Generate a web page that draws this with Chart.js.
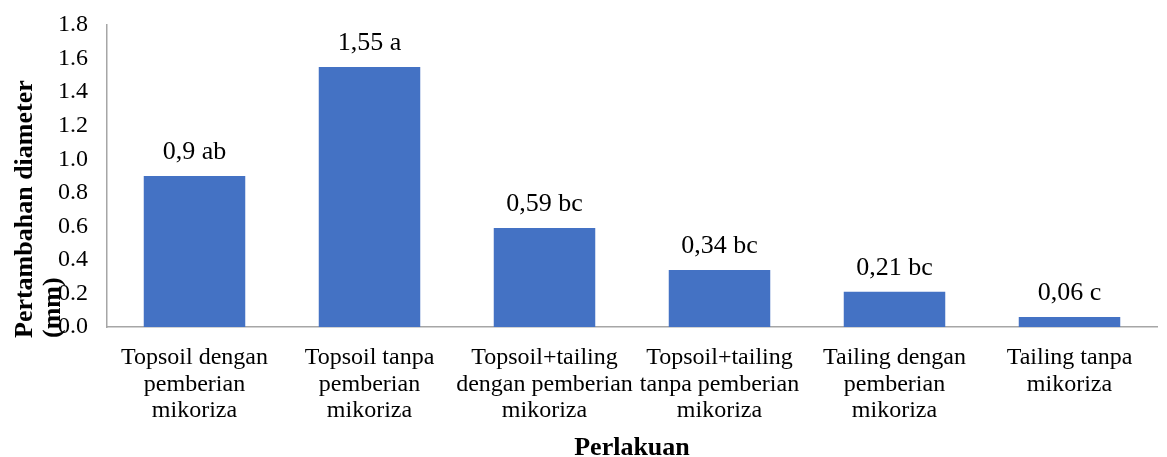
<!DOCTYPE html>
<html><head><meta charset="utf-8">
<script src="https://cdn.jsdelivr.net/npm/chart.js@4/dist/chart.umd.min.js"></script>
<style>html,body{margin:0;padding:0;background:#fff}#w{width:1167px;height:457px}</style>
</head><body><div id="w"><canvas id="c"></canvas></div>
<script>
const categories = [
  ["Topsoil dengan","pemberian","mikoriza"],
  ["Topsoil tanpa","pemberian","mikoriza"],
  ["Topsoil+tailing","dengan pemberian","mikoriza"],
  ["Topsoil+tailing","tanpa pemberian","mikoriza"],
  ["Tailing dengan","pemberian","mikoriza"],
  ["Tailing tanpa","mikoriza"]
];
const values = [0.9, 1.55, 0.59, 0.34, 0.21, 0.06];
const valueLabels = ["0,9 ab","1,55 a","0,59 bc","0,34 bc","0,21 bc","0,06 c"];
const yTitleLines = ["Pertambahan diameter","(mm)"];
const xTitle = "Perlakuan";

const SERIF = '"Liberation Serif","Times New Roman",serif';

const labelPlugin = {
  id:'labels',
  afterDatasetsDraw(chart){
    const ctx = chart.ctx;
    const meta = chart.getDatasetMeta(0);
    ctx.save();
    ctx.fillStyle = '#000';
    ctx.font = '26px ' + SERIF;
    ctx.textAlign = 'center';
    ctx.textBaseline = 'middle';
    meta.data.forEach((b,i)=>{ ctx.fillText(valueLabels[i], b.x, b.y - 24); });
    // y title
    ctx.font = 'bold 26px ' + SERIF;
    ctx.textAlign = 'left';
    ctx.textBaseline = 'middle';
    ctx.save();
    ctx.translate(25, 338);
    ctx.rotate(-Math.PI/2);
    ctx.fillText(yTitleLines[0], 0, 0);
    ctx.fillText(yTitleLines[1], 0, 28);
    ctx.restore();
    // x title
    ctx.textAlign = 'center';
    ctx.fillText(xTitle, (chart.chartArea.left+chart.chartArea.right)/2, 448);
    ctx.restore();
  }
};

new Chart(document.getElementById('c'), {
  type:'bar',
  data:{ labels: categories, datasets:[{ data: values, backgroundColor:'#4472c4', barPercentage:0.58, categoryPercentage:1 }]},
  options:{
    responsive:true, maintainAspectRatio:false, animation:false,
    layout:{ padding:{ top:25, right:10, left:0, bottom:0 } },
    plugins:{ legend:{display:false}, tooltip:{enabled:false} },
    scales:{
      x:{
        grid:{ display:false, drawTicks:false },
        border:{ display:true, color:'#a6a6a6', width:1.5 },
        ticks:{ color:'#000', font:{ family:SERIF, size:24, lineHeight:1.1 }, padding:18, maxRotation:0, autoSkip:false },
        afterFit(s){ s.height = 130; s.paddingLeft = 0; s.paddingRight = 0; }
      },
      y:{
        min:0, max:1.8,
        grid:{ display:false, drawTicks:false },
        border:{ display:true, color:'#a6a6a6', width:1.5 },
        ticks:{ stepSize:0.2, color:'#000', font:{ family:SERIF, size:24 }, padding:19, callback:v=>Number(v).toFixed(1) },
        afterFit(s){ s.width = 107; s.paddingTop = 0; s.paddingBottom = 0; }
      }
    }
  },
  plugins:[labelPlugin]
});
</script>
</body></html>
